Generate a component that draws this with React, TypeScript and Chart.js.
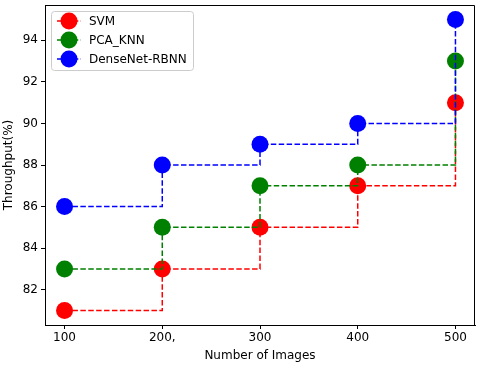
import React, { useEffect, useRef } from "react";
import { Chart, registerables } from "chart.js";

Chart.register(...registerables);

const imageCounts = [100, 200, 300, 400, 500];
const xTickLabels = ["100", "200,", "300", "400", "500"];
const yTicks = [82, 84, 86, 88, 90, 92, 94];
const svm = [81, 83, 85, 87, 91];
const pcaKnn = [83, 85, 87, 88, 93];
const densenet = [86, 88, 89, 90, 95];
const seriesNames = ["SVM", "PCA_KNN", "DenseNet-RBNN"];
const seriesColors = ["#ff0000", "#008000", "#0000ff"];

const FONT = "'DejaVu Sans', sans-serif";
const DASH = [5.5, 2.4];
const RADIUS = 8.5;

export default function App() {
  const ref = useRef<HTMLCanvasElement | null>(null);

  useEffect(() => {
    if (!ref.current) return;
    const seriesValues = [svm, pcaKnn, densenet];

    const framePlugin = {
      id: "frame",
      afterDraw(chart: any) {
        const { ctx, chartArea } = chart;
        ctx.save();
        ctx.strokeStyle = "#000";
        ctx.lineWidth = 1;
        ctx.beginPath();
        ctx.moveTo(chartArea.left, chartArea.top + 0.5);
        ctx.lineTo(chartArea.right - 0.5, chartArea.top + 0.5);
        ctx.lineTo(chartArea.right - 0.5, chartArea.bottom);
        ctx.stroke();

        // legend
        const lx = 51, ly = 11, lw = 142, lh = 59;
        ctx.beginPath();
        ctx.roundRect(lx + 0.5, ly + 0.5, lw, lh, 3);
        ctx.fillStyle = "rgba(255,255,255,0.8)";
        ctx.fill();
        ctx.strokeStyle = "#cccccc";
        ctx.lineWidth = 1;
        ctx.stroke();
        const rows = [21, 40, 59];
        seriesNames.forEach((name, i) => {
          const y = rows[i];
          ctx.strokeStyle = seriesColors[i];
          ctx.lineWidth = 1.5;
          ctx.setLineDash(DASH);
          ctx.beginPath();
          ctx.moveTo(57, y);
          ctx.lineTo(81, y);
          ctx.stroke();
          ctx.setLineDash([]);
          ctx.beginPath();
          ctx.arc(69, y, RADIUS, 0, Math.PI * 2);
          ctx.fillStyle = seriesColors[i];
          ctx.fill();
          ctx.fillStyle = "#000";
          ctx.font = `12px ${FONT}`;
          ctx.textBaseline = "middle";
          ctx.textAlign = "left";
          ctx.fillText(name, 89, y + 0.5);
        });
        ctx.restore();
      },
    };

    const chart = new Chart(ref.current, {
      type: "line",
      data: {
        datasets: seriesNames.map((name, i) => ({
          label: name,
          data: imageCounts.map((x, j) => ({ x, y: seriesValues[i][j] })),
          borderColor: seriesColors[i],
          backgroundColor: seriesColors[i],
          pointBackgroundColor: seriesColors[i],
          pointBorderColor: seriesColors[i],
          pointBorderWidth: 0,
          pointRadius: RADIUS,
          borderWidth: 1.5,
          borderDash: DASH,
          stepped: true,
          fill: false,
          order: 2 - i,
        })),
      },
      options: {
        responsive: false,
        animation: false,
        events: [],
        layout: { autoPadding: false, padding: { top: 5, right: 5, left: 0, bottom: 0 } },
        plugins: {
          legend: { display: false },
          tooltip: { enabled: false },
        },
        scales: {
          x: {
            type: "linear",
            min: 80,
            max: 520,
            afterFit: (s: any) => {
              s.height = 40;
              s.paddingLeft = 0;
              s.paddingRight = 0;
            },
            afterBuildTicks: (s: any) => {
              s.ticks = imageCounts.map((v) => ({ value: v }));
            },
            ticks: {
              color: "#000",
              font: { family: FONT, size: 12 },
              padding: 2,
              maxRotation: 0,
              autoSkip: false,
              callback: (v: any) => {
                const idx = imageCounts.indexOf(Number(v));
                return idx >= 0 ? xTickLabels[idx] : "";
              },
            },
            grid: {
              drawOnChartArea: false,
              drawTicks: true,
              tickLength: 4,
              color: "#000",
            },
            border: { display: true, color: "#000", width: 1 },
            title: {
              display: true,
              text: "Number of Images",
              color: "#000",
              font: { family: FONT, size: 12 },
              padding: { top: 0, bottom: 2 },
            },
          },
          y: {
            type: "linear",
            min: 80.3,
            max: 95.7,
            afterFit: (s: any) => {
              s.width = 45;
              s.paddingTop = 0;
              s.paddingBottom = 0;
            },
            afterBuildTicks: (s: any) => {
              s.ticks = yTicks.map((v) => ({ value: v }));
            },
            ticks: {
              color: "#000",
              font: { family: FONT, size: 12 },
              padding: 3,
              autoSkip: false,
              callback: (v: any) => String(v),
            },
            grid: {
              drawOnChartArea: false,
              drawTicks: true,
              tickLength: 4,
              color: "#000",
            },
            border: { display: true, color: "#000", width: 1 },
            title: {
              display: true,
              text: "Throughput(%)",
              color: "#000",
              font: { family: FONT, size: 12 },
              padding: { top: 2, bottom: 0 },
            },
          },
        },
      },
      plugins: [framePlugin],
    });
    return () => chart.destroy();
  }, []);

  return (
    <div style={{ position: "fixed", left: 0, top: 0, width: 480, height: 365, background: "#fff" }}>
      <canvas ref={ref} width={480} height={365} style={{ display: "block" }} />
    </div>
  );
}
